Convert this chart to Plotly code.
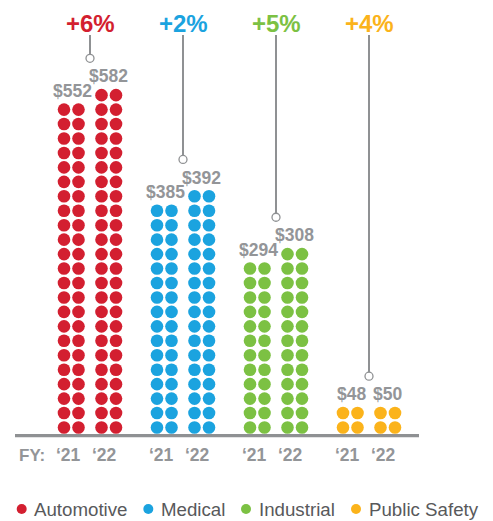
import math
import plotly.graph_objects as go

# ---- data ----
categories = ["Automotive", "Medical", "Industrial", "Public Safety"]
fy21 = [552, 385, 294, 48]
fy22 = [582, 392, 308, 50]
growth = ["+6%", "+2%", "+5%", "+4%"]
year_labels = ["\u201821", "\u201822"]
colors = ["#d31f30", "#1ba3df", "#7cc143", "#fbb31b"]
DOLLARS_PER_DOT = 12
DOTS_PER_ROW = 2

# ---- layout constants (pixel geometry of the reference page) ----
PAGE_W, PAGE_H = 493, 521
BODY = 8  # default page margin around the plot div
W, H = PAGE_W - BODY, PAGE_H - BODY
CAT0_PX, CAT_STEP_PX = 90.0, 93.0
ROW0_PX, ROW_STEP_PX = 427.5, 14.45
GRAY = "#939598"
LINE_GRAY = "#8f9193"


def xd(px):
    return (px - CAT0_PX) / CAT_STEP_PX


def yd(py):
    return (ROW0_PX - py) / ROW_STEP_PX


col_off = [-26 / CAT_STEP_PX, -11.5 / CAT_STEP_PX, 11.5 / CAT_STEP_PX, 26 / CAT_STEP_PX]
value_off = [-18.0 / CAT_STEP_PX, 18.0 / CAT_STEP_PX]
year_off = [-21.3 / CAT_STEP_PX, 14.5 / CAT_STEP_PX]


def n_rows(v):
    dots = round(v / DOLLARS_PER_DOT)
    return math.ceil(dots / DOTS_PER_ROW)


fig = go.Figure()
annotations = []
shapes = []

for i, cat in enumerate(categories):
    xs, ys = [], []
    tops = []
    for yi, vals in enumerate([fy21, fy22]):
        rows = n_rows(vals[i])
        tops.append(rows - 1)
        for r in range(rows):
            for c in range(DOTS_PER_ROW):
                xs.append(i + col_off[yi * 2 + c])
                ys.append(r)
        annotations.append(dict(
            x=i + value_off[yi], y=rows - 1 + 1.3, text="$%d" % vals[i],
            showarrow=False, xanchor="center", yanchor="middle",
            font=dict(family="Liberation Sans", size=17.5, color=GRAY, weight="bold")))
        annotations.append(dict(
            x=i + year_off[yi], y=yd(455), text=year_labels[yi],
            showarrow=False, xanchor="center", yanchor="middle",
            font=dict(family="Liberation Sans", size=17.5, color=GRAY, weight="bold")))
    fig.add_trace(go.Scatter(
        x=xs, y=ys, mode="markers", showlegend=False, hoverinfo="skip",
        marker=dict(size=12.6, color=colors[i], line=dict(width=0))))
    # growth callout
    circ_y = max(tops) + 2.55
    shapes.append(dict(type="line", x0=i, x1=i, y0=yd(35), y1=circ_y,
                       line=dict(color=LINE_GRAY, width=2), layer="below"))
    fig.add_trace(go.Scatter(
        x=[i], y=[circ_y], mode="markers", showlegend=False, hoverinfo="skip",
        marker=dict(size=8, color="white", line=dict(color=LINE_GRAY, width=1.3))))
    annotations.append(dict(
        x=i, y=yd(23.5), text=growth[i], showarrow=False,
        xanchor="center", yanchor="middle",
        font=dict(family="Liberation Sans", size=24, color=colors[i], weight="bold")))

# baseline
shapes.append(dict(type="line", x0=xd(15), x1=xd(419), y0=yd(435.7), y1=yd(435.7),
                   line=dict(color=LINE_GRAY, width=3.2)))

annotations.append(dict(
    x=xd(17), y=yd(455), text="FY:", showarrow=False, xanchor="left", yanchor="middle",
    font=dict(family="Liberation Sans", size=17, color=GRAY, weight="bold")))

# custom legend
leg_dot_px = [21.7, 148.3, 246.0, 356.0]
fig.add_trace(go.Scatter(
    x=[xd(p) for p in leg_dot_px], y=[yd(509)] * 4, mode="markers",
    showlegend=False, hoverinfo="skip",
    marker=dict(size=10, color=colors, line=dict(width=0))))
for p, name in zip(leg_dot_px, categories):
    annotations.append(dict(
        x=xd(p + 10.5), y=yd(509), text=name, showarrow=False,
        xanchor="left", yanchor="middle",
        font=dict(family="Liberation Sans", size=18.7, color="#58595b")))

# axes ranges expressed in plot pixels (page pixel minus BODY)
fig.update_layout(
    width=W, height=H, margin=dict(l=0, r=0, t=0, b=0),
    paper_bgcolor="white", plot_bgcolor="white",
    xaxis=dict(range=[xd(BODY), xd(BODY + W)], visible=False, fixedrange=True),
    yaxis=dict(range=[yd(BODY + H), yd(BODY)], visible=False, fixedrange=True),
    annotations=annotations, shapes=shapes, showlegend=False,
)

fig.write_html("out.html")
